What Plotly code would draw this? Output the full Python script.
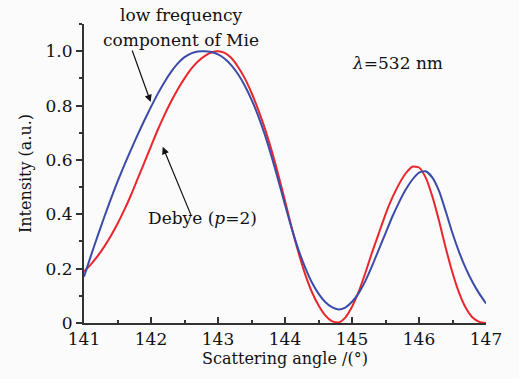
import plotly.graph_objects as go

angle = [141.0, 141.1, 141.2, 141.3, 141.4, 141.5, 141.6, 141.7, 141.8, 141.9,
         142.0, 142.1, 142.2, 142.3, 142.4, 142.5, 142.6, 142.7, 142.8, 142.9,
         143.0, 143.1, 143.2, 143.3, 143.4, 143.5, 143.6, 143.7, 143.8, 143.9,
         144.0, 144.1, 144.2, 144.3, 144.4, 144.5, 144.6, 144.7, 144.8, 144.9,
         145.0, 145.1, 145.2, 145.3, 145.4, 145.5, 145.6, 145.7, 145.8, 145.9,
         146.0, 146.1, 146.2, 146.3, 146.4, 146.5, 146.6, 146.7, 146.8, 146.9,
         147.0]

# Low frequency component of Mie (blue)
mie_y = [0.17, 0.245, 0.318, 0.388, 0.456, 0.52, 0.58, 0.637, 0.692, 0.745,
         0.795, 0.843, 0.886, 0.924, 0.955, 0.978, 0.992, 0.999, 1.0, 0.997,
         0.988, 0.972, 0.948, 0.915, 0.873, 0.822, 0.762, 0.692, 0.612, 0.525,
         0.435, 0.348, 0.27, 0.205, 0.15, 0.108, 0.077, 0.058, 0.05, 0.057,
         0.078, 0.11, 0.155, 0.21, 0.27, 0.33, 0.39, 0.443, 0.49, 0.527,
         0.553, 0.558, 0.535, 0.485, 0.41, 0.33, 0.26, 0.20, 0.15, 0.108,
         0.072]

# Debye p=2 (red)
debye_y = [0.19, 0.215, 0.245, 0.28, 0.32, 0.365, 0.415, 0.47, 0.53, 0.59,
           0.65, 0.71, 0.765, 0.815, 0.86, 0.90, 0.935, 0.962, 0.982, 0.995,
           1.0, 0.994, 0.975, 0.942, 0.90, 0.847, 0.785, 0.715, 0.635, 0.545,
           0.45, 0.35, 0.26, 0.18, 0.115, 0.065, 0.028, 0.007, 0.002, 0.02,
           0.06, 0.115, 0.185, 0.26, 0.33, 0.40, 0.46, 0.51, 0.55, 0.575,
           0.572, 0.535, 0.465, 0.375, 0.275, 0.185, 0.11, 0.055, 0.02, 0.004,
           0.0]

x_ticks = [141, 142, 143, 144, 145, 146, 147]
y_ticks = [0, 0.2, 0.4, 0.6, 0.8, 1.0]
y_ticktext = ["0", "0.2", "0.4", "0.6", "0.8", "1.0"]

serif = "DejaVu Serif"

fig = go.Figure()
fig.add_trace(go.Scatter(x=angle, y=debye_y, mode="lines",
                         line=dict(color="#e8262b", width=2, shape="spline", smoothing=0.6)))
fig.add_trace(go.Scatter(x=angle, y=mie_y, mode="lines",
                         line=dict(color="#3b4ba8", width=2, shape="spline", smoothing=0.6)))

fig.update_layout(
    width=519, height=379,
    margin=dict(l=84, r=33, t=24, b=56),
    paper_bgcolor="#fbfbfb", plot_bgcolor="#fbfbfb",
    showlegend=False,
    font=dict(family=serif, size=16, color="#111"),
)
fig.update_xaxes(
    range=[141, 147], tickvals=x_ticks, showgrid=False, zeroline=False,
    showline=True, linecolor="#333", linewidth=2,
    ticks="inside", ticklen=6, tickwidth=1.5, tickcolor="#333",
    minor=dict(dtick=0.5, ticks="inside", ticklen=3, tickcolor="#333", tickwidth=1.5),
    tickfont=dict(family=serif, size=17),
    title=dict(text="Scattering angle /(°)", font=dict(family=serif, size=16), standoff=4),
)
fig.update_yaxes(
    range=[0, 1.1], tickvals=y_ticks, ticktext=y_ticktext, showgrid=False, zeroline=False,
    showline=True, linecolor="#333", linewidth=2,
    ticks="outside", ticklen=6, tickwidth=1.5, tickcolor="#333",
    minor=dict(dtick=0.1, ticks="outside", ticklen=3, tickcolor="#333", tickwidth=1.5),
    tickfont=dict(family=serif, size=17),
    title=dict(text="Intensity (a.u.)", font=dict(family=serif, size=16), standoff=10),
)

ann_font = dict(family=serif, size=17, color="#111")
fig.add_annotation(xref="paper", yref="paper", x=0.241, y=1.030, text="low frequency",
                   showarrow=False, font=ann_font, xanchor="center", yanchor="middle")
fig.add_annotation(xref="paper", yref="paper", x=0.241, y=0.946, text="component of Mie",
                   showarrow=False, font=ann_font, xanchor="center", yanchor="middle")
fig.add_annotation(xref="paper", yref="paper", x=0.781, y=0.870, text="<i>λ</i>=532 nm",
                   showarrow=False, font=ann_font, xanchor="center", yanchor="middle")
fig.add_annotation(xref="paper", yref="paper", x=0.296, y=0.351, text="Debye (<i>p</i>=2)",
                   showarrow=False, font=ann_font, xanchor="center", yanchor="middle")
# arrows
fig.add_annotation(xref="x", yref="y", x=141.995, y=0.813, ax=-19, ay=-53, text="",
                   showarrow=True, arrowhead=2, arrowsize=1.2, arrowwidth=1.2, arrowcolor="#111")
fig.add_annotation(xref="x", yref="y", x=142.175, y=0.648, ax=29, ay=70, text="",
                   showarrow=True, arrowhead=2, arrowsize=1.2, arrowwidth=1.2, arrowcolor="#111")

fig.write_html("out.html")
